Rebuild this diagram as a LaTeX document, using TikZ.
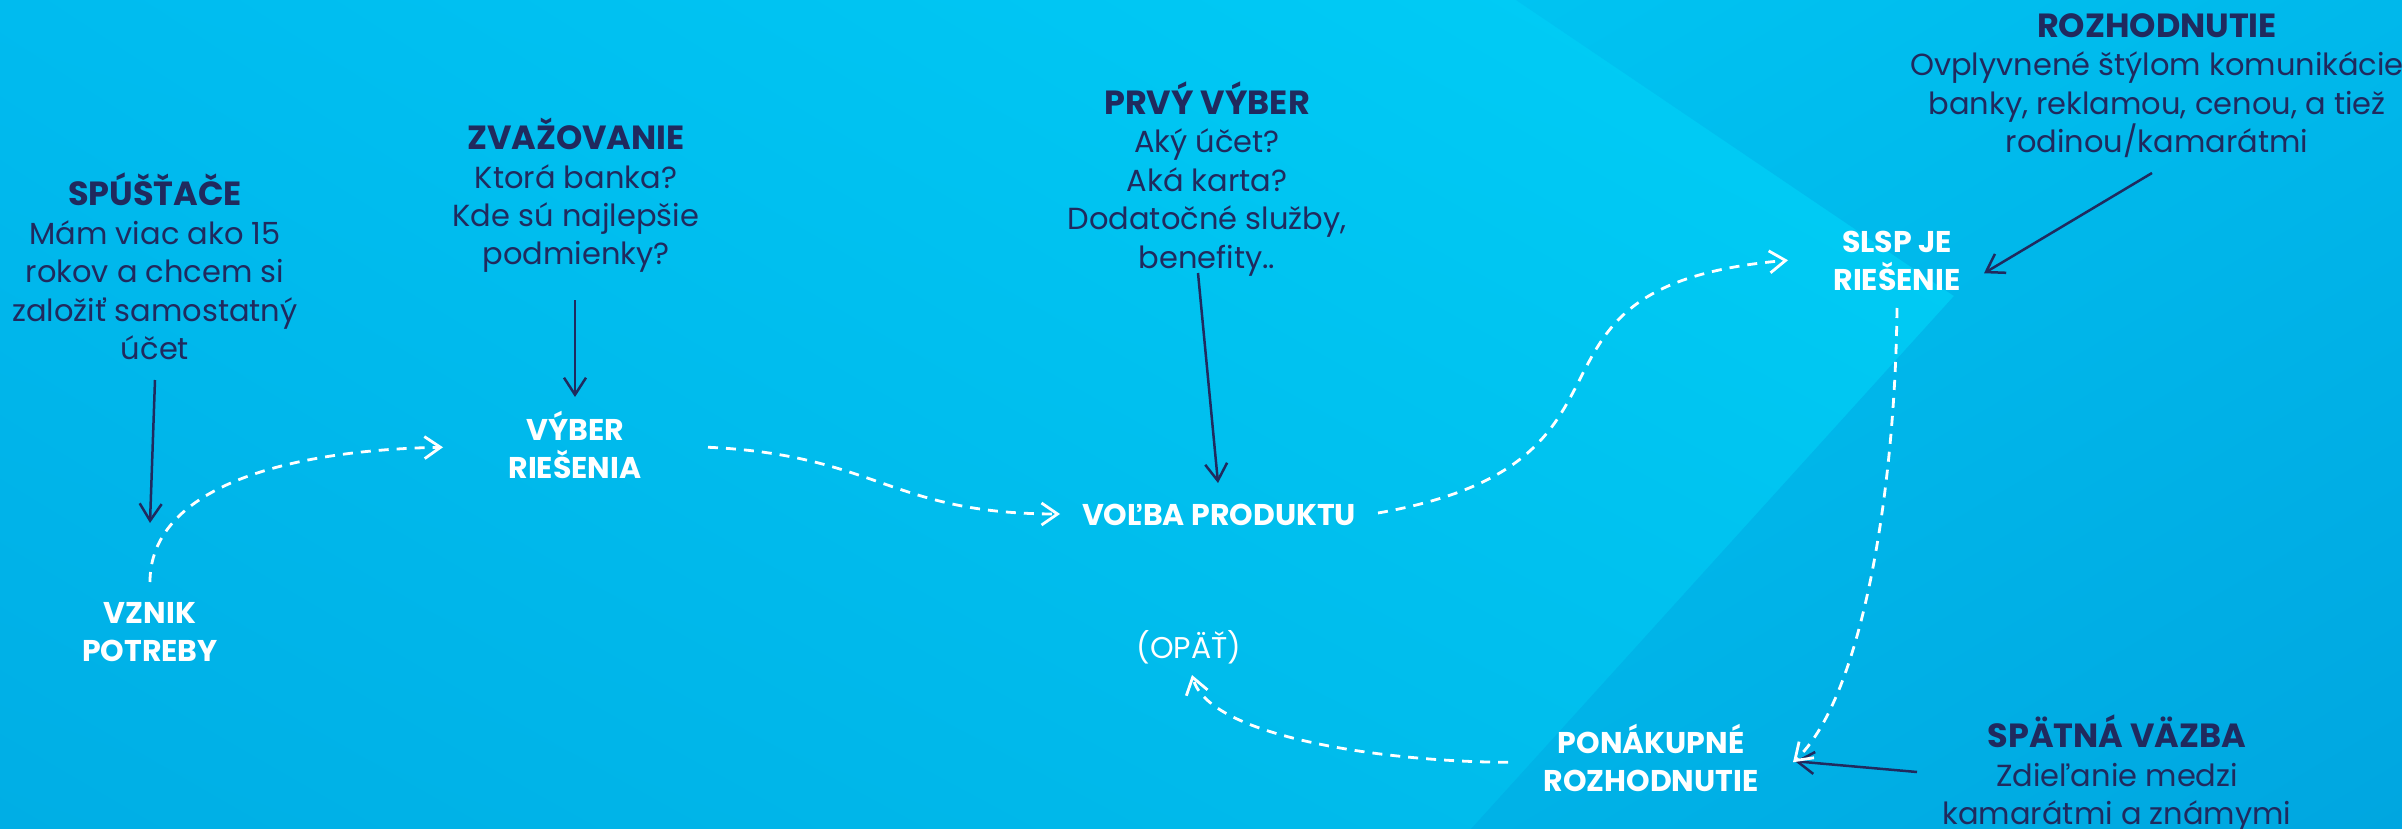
\documentclass[tikz,border=0pt]{standalone}
\usepackage{fontspec}
\setmainfont{Poppins}
\usetikzlibrary{arrows.meta,shadings}
\definecolor{navy}{RGB}{32,42,94}
\definecolor{bgUL}{RGB}{0,187,239}
\definecolor{bgUR}{RGB}{0,212,248}
\definecolor{bgLL}{RGB}{0,174,229}
\definecolor{bgLR}{RGB}{0,196,240}
\definecolor{rtUL}{RGB}{0,196,242}
\definecolor{rtUR}{RGB}{0,184,235}
\definecolor{rtLL}{RGB}{0,178,231}
\definecolor{rtLR}{RGB}{0,166,224}
\newcommand\myTop{\rule{0pt}{36pt}}
\newcommand\myBot{\rule[-10pt]{0pt}{10pt}}
\newcommand\ttl{\fontsize{33.5}{38.5}\selectfont\bfseries}
\begin{document}
\begin{tikzpicture}[x=1pt,y=-1pt,
  grp/.style={align=center,text=navy,font=\fontsize{30.5}{38.5}\selectfont,inner sep=0pt,outer sep=0pt,anchor=north},
  lbl/.style={align=center,text=white,font=\fontsize{30}{38.5}\selectfont\bfseries,inner sep=0pt,outer sep=0pt,anchor=north},
  navyarr/.style={draw=navy,line width=2.5pt,-{Straight Barb[length=17pt,width=22pt,line width=2.5pt]}},
  wdash/.style={draw=white,line width=2.8pt,dash pattern=on 10pt off 8pt,-{Straight Barb[length=16pt,width=22pt,line width=2.8pt]}}
]
\useasboundingbox (0,0) rectangle (2402,829);
% background
\shade[upper left=bgUL,upper right=bgUR,lower left=bgLL,lower right=bgLR] (0,0) rectangle (2402,829);
\shade[upper left=rtUL,upper right=rtUR,lower left=rtLL,lower right=rtLR]
  (1516,0) -- (1954,296) -- (1471,829) -- (2402,829) -- (2402,0) -- cycle;

% groups (navy)
\node[grp] (spus) at (155,169.5) {\myTop{\ttl SPÚŠŤAČE}\\Mám viac ako 15\\rokov a chcem si\\založiť samostatný\\účet\myBot};
\node[grp] (zvaz) at (576,113.5) {\myTop{\ttl ZVAŽOVANIE}\\Ktorá banka?\\Kde sú najlepšie\\podmienky?\myBot};
\node[grp] (prvy) at (1207,78.5) {\myTop{\ttl PRVÝ VÝBER}\\Aký účet?\\Aká karta?\\Dodatočné služby,\\benefity..\myBot};
\node[grp] (roz) at (2157,1.5) {\myTop{\ttl ROZHODNUTIE}\\Ovplyvnené štýlom komunikácie\\banky, reklamou, cenou, a tiež\\rodinou/kamarátmi\myBot};
\node[grp] (spat) at (2117,711.5) {\myTop{\ttl SPÄTNÁ VÄZBA}\\Zdieľanie medzi\\kamarátmi a známymi\myBot};

% white labels
\node[lbl] (vznik) at (150,587) {\myTop VZNIK\\POTREBY\myBot};
\node[lbl] (vyber) at (575,404) {\myTop VÝBER\\RIEŠENIA\myBot};
\node[lbl] (volba) at (1219,489) {\myTop VOĽBA PRODUKTU\myBot};
\node[lbl] (slsp) at (1897,216) {\myTop SLSP JE\\RIEŠENIE\myBot};
\node[lbl] (pona) at (1651,717) {\myTop PONÁKUPNÉ\\ROZHODNUTIE\myBot};
\node[lbl,font=\fontsize{30}{38.5}\selectfont] (opat) at (1189,622.5) {\myTop(OPÄŤ)\myBot};

% navy arrows
\draw[navyarr] ([shift={(0,10.5)}]spus.south) -- ([shift={(0,-64)}]vznik.north);
\draw[navyarr] ([shift={(-1,25)}]zvaz.south) -- ([shift={(0,-7)}]vyber.north);
\draw[navyarr] ([shift={(-9,-5.5)}]prvy.south) -- ([shift={(-1,-6)}]volba.north);
\draw[navyarr] ([shift={(-5,10)}]roz.south) -- ([shift={(87,15)}]slsp.center);
\draw[navyarr] ([shift={(-200,-1)}]spat.center) -- ([shift={(144,2)}]pona.center);

% white dashed flow
\draw[wdash] ([shift={(0,-5)}]vznik.north) .. controls +(0,-92) and +(-163,3) .. ([shift={(-132,1)}]vyber.center);
\draw[wdash] ([shift={(133,1)}]vyber.center) .. controls +(170,8) and +(-170,0) .. ([shift={(-159,2)}]volba.center);
\draw[wdash] ([shift={(159,1)}]volba.center) .. controls +(297,-52) and +(-301,26) .. ([shift={(-109,2)}]slsp.center);
\draw[wdash] ([shift={(0,7.5)}]slsp.south) .. controls +(-2,192) and +(67,-62) .. ([shift={(142,3)}]pona.center);
\draw[wdash] ([shift={(-143,3)}]pona.center) .. controls +(-108,0) and +(18,65) .. ([shift={(3,29.5)}]opat.center);
\end{tikzpicture}
\end{document}
